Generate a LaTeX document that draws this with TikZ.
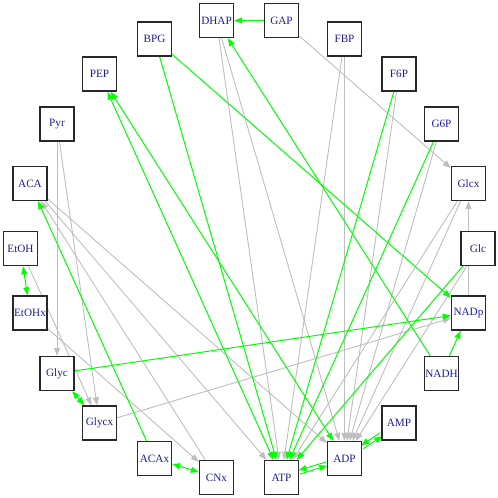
\documentclass[tikz,border=0pt]{standalone}
\usepackage{fontspec}
\setmainfont{Liberation Serif}
\usetikzlibrary{arrows.meta,backgrounds}
\definecolor{gedge}{RGB}{0,255,0}
\definecolor{redge}{RGB}{190,190,190}
\definecolor{lbl}{RGB}{30,30,150}
\definecolor{bord}{RGB}{40,40,40}
\begin{document}
\begin{tikzpicture}[x=1pt,y=-1pt,
  vbox/.style={draw=bord, line width=1.4pt, fill=white, minimum width=34pt, minimum height=34pt, inner sep=0pt, text=lbl, font=\fontsize{11.2}{13}\selectfont},
  tipg/.tip={Triangle[length=8pt,width=6pt]},
  gr/.style={draw=gedge, line width=1pt, -tipg},
  grb/.style={draw=gedge, line width=1pt, tipg-tipg},
  gy/.style={draw=redge, line width=0.9pt, -tipg}]
\useasboundingbox (0,0) rectangle (498,498);
\node[vbox] (DHAP) at (216.5,20.5) {DHAP};
\node[vbox] (GAP) at (281.5,20.5) {GAP};
\node[vbox] (BPG) at (154.5,39) {BPG};
\node[vbox] (FBP) at (344.5,39) {FBP};
\node[vbox] (PEP) at (99.5,74) {PEP};
\node[vbox] (F6P) at (399,74) {F6P};
\node[vbox] (Pyr) at (57,124) {Pyr};
\node[vbox] (G6P) at (441.5,124) {G6P};
\node[vbox] (ACA) at (30,183.5) {ACA};
\node[vbox] (Glcx) at (468.5,183.5) {Glcx};
\node[vbox] (EtOH) at (20.5,248.5) {EtOH};
\node[vbox] (Glc) at (478,248.5) {Glc};
\node[vbox] (EtOHx) at (30,313) {EtOHx};
\node[vbox] (NADp) at (468.5,313) {NADp};
\node[vbox] (Glyc) at (57,373.5) {Glyc};
\node[vbox] (NADH) at (441.5,373.5) {NADH};
\node[vbox] (Glycx) at (99.5,423) {Glycx};
\node[vbox] (AMP) at (399,423) {AMP};
\node[vbox] (ACAx) at (154.5,458.5) {ACAx};
\node[vbox] (ADP) at (344.5,458.5) {ADP};
\node[vbox] (CNx) at (216.5,477.5) {CNx};
\node[vbox] (ATP) at (281.5,477.5) {ATP};
\begin{scope}[on background layer]
% gray edges
\draw[gy] (GAP) -- (Glcx);
\draw[gy] (NADp) -- (Glcx);
\draw[gy] (DHAP) -- (ATP);
\draw[gy] (DHAP) -- (ADP);
\draw[gy] (FBP) -- (ATP);
\draw[gy] (FBP) -- (ADP);
\draw[gy] (F6P) -- (ADP);
\draw[gy] (G6P) -- (ADP);
\draw[gy] (Glcx) -- (ATP);
\draw[gy] (Glcx) -- (ADP);
\draw[gy] (Glc) -- (ADP);
\draw[gy] (Pyr) -- (Glyc);
\draw[gy] (Pyr) -- (Glycx);
\draw[gy] (EtOH) -- (Glycx);
\draw[gy] (EtOHx) -- (CNx);
\draw[gy] (CNx) -- (ACA);
\draw[gy] (ACA) -- (ATP);
\draw[gy] (ACA) -- (ADP);
\draw[gy] (Glycx) -- (NADp);
% green edges
\draw[gr] (GAP) -- (DHAP);
\draw[gr] (NADH) -- (DHAP);
\draw[gr] (BPG) -- (NADp);
\draw[gr] (BPG) -- (ATP);
\draw[grb] (PEP) -- (ATP);
\draw[grb] (PEP) -- (ADP);
\draw[gr] (F6P) -- (ATP);
\draw[gr] (G6P) -- (ATP);
\draw[gr] (Glc) -- (ATP);
\draw[gr] (NADH) -- (NADp);
\draw[gr] (Glyc) -- (NADp);
\draw[grb] (Glyc) -- (Glycx);
\draw[grb] (EtOH) -- (EtOHx);
\draw[gr] (ACAx) -- (ACA);
\draw[grb] (ACAx) -- (CNx);
\draw[gr, transform canvas={shift={(-0.6,-1.9)}}] (ADP) -- (ATP);
\draw[gr, transform canvas={shift={(0.6,1.9)}}] (ATP) -- (ADP);
\draw[gr, transform canvas={shift={(-1.1,-1.7)}}] (AMP) -- (ADP);
\draw[gr, transform canvas={shift={(1.1,1.7)}}] (ADP) -- (AMP);
\end{scope}
\end{tikzpicture}
\end{document}
